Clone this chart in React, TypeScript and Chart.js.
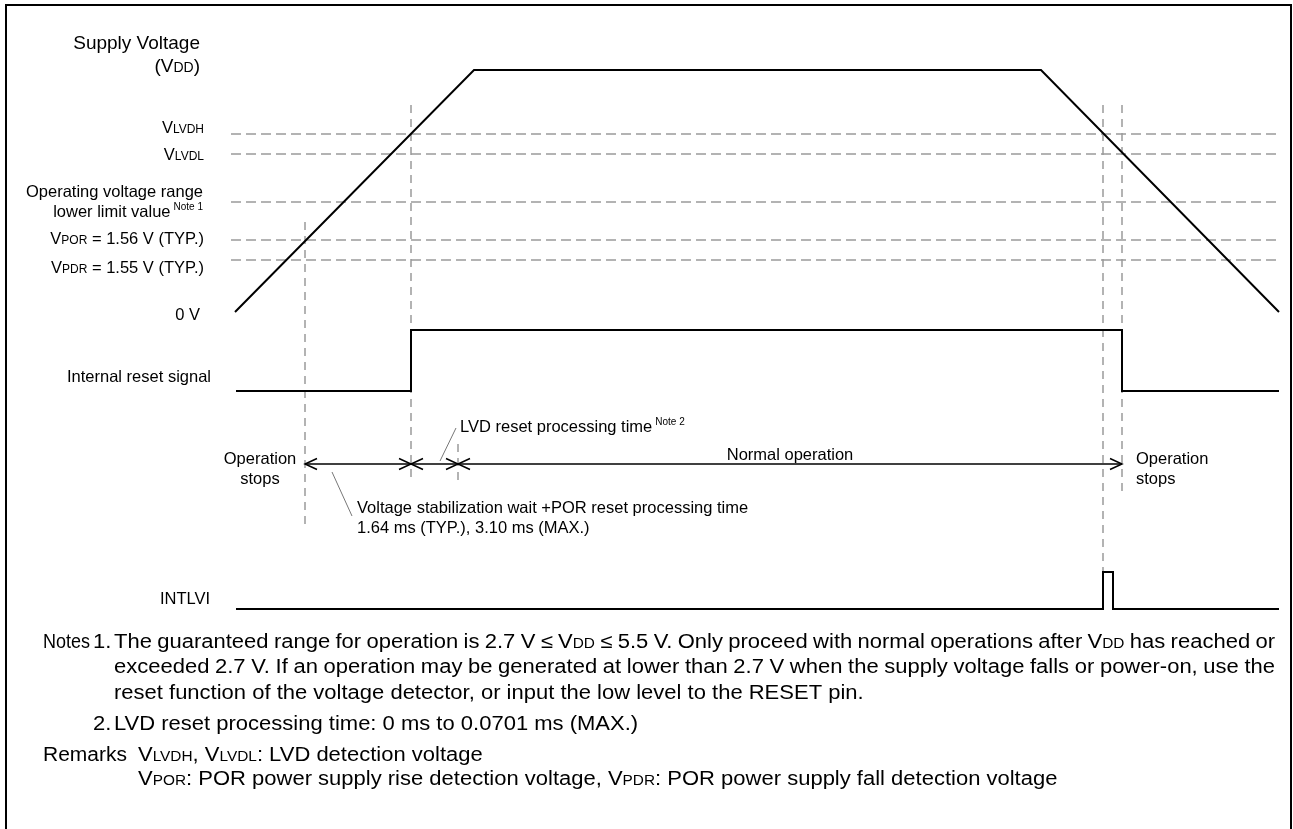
import React, { useEffect, useRef } from "react";
import { Chart, registerables } from "chart.js";

Chart.register(...registerables);

const FONT = '"Liberation Sans", Arial, Helvetica, sans-serif';

// ---- Waveform data: time axis (diagram time units), level axis (0 V = 0) ----
const vddTime = [235, 474, 1041, 1279];
const vddLevel = [0, 242, 242, 0];

const resetTime = [236, 411, 411, 1122, 1122, 1279];
const resetLevel = [-79, -79, -18, -18, -79, -79];

const intlviTime = [236, 1103, 1103, 1113, 1113, 1279];
const intlviLevel = [-297, -297, -260, -260, -297, -297];

// Threshold voltage levels (horizontal dashed guides)
const thresholdNames = ["VLVDH", "VLVDL", "OPMIN", "VPOR", "VPDR"];
const thresholdLevel = [178, 158, 110, 72, 52];
const thresholdSpan = [231, 1279];

// Event instants (vertical dashed guides)
const markerTime = [305, 411, 458, 1103, 1122];
const markerTop = [90, 207, -132, 207, 207];
const markerBottom = [-214, -171, -174, -260, -183];

// Operation timeline (double arrow row)
const spanRowLevel = -152;
const spanTime = [305, 1122];
const arrowTime = [305, 411, 411, 458, 458, 1122];
const arrowDir = [-1, 1, -1, 1, -1, 1];

// Leader lines for annotations
const leaderTime = [[440, 456], [332, 352]];
const leaderLevel = [[-149, -116], [-160, -204]];

// Axis ranges
const timeRange = [0, 1293];
const levelRange = [-517, 312];

const LS = 16.5;
type Label = { text: string; x: number; y: number; size: number; align: "left" | "right" | "center" };
const labels: Label[] = [
  { text: "Supply Voltage", x: 200, y: 263, size: 19, align: "right" },
  { text: "(V{DD})", x: 200, y: 240, size: 19, align: "right" },
  { text: "V{LVDH}", x: 204, y: 179, size: LS, align: "right" },
  { text: "V{LVDL}", x: 204, y: 152, size: LS, align: "right" },
  { text: "Operating voltage range", x: 203, y: 115, size: LS, align: "right" },
  { text: "lower limit value^{Note 1}", x: 203, y: 95, size: LS, align: "right" },
  { text: "V{POR} = 1.56 V (TYP.)", x: 204, y: 68, size: LS, align: "right" },
  { text: "V{PDR} = 1.55 V (TYP.)", x: 204, y: 39, size: LS, align: "right" },
  { text: "0 V", x: 200, y: -8, size: LS, align: "right" },
  { text: "Internal reset signal", x: 211, y: -70, size: LS, align: "right" },
  { text: "INTLVI", x: 210, y: -292, size: LS, align: "right" },
  { text: "Operation", x: 260, y: -152, size: LS, align: "center" },
  { text: "stops", x: 260, y: -172, size: LS, align: "center" },
  { text: "Operation", x: 1136, y: -152, size: LS, align: "left" },
  { text: "stops", x: 1136, y: -172, size: LS, align: "left" },
  { text: "Normal operation", x: 790, y: -148, size: LS, align: "center" },
  { text: "LVD reset processing time^{Note 2}", x: 460, y: -120, size: LS, align: "left" },
  { text: "Voltage stabilization wait +POR reset processing time", x: 357, y: -201, size: LS, align: "left" },
  { text: "1.64 ms (TYP.), 3.10 ms (MAX.)", x: 357, y: -221, size: LS, align: "left" },
];

const noteSize = 20;
const noteStretch = 1.1;
const noteLines = [
  { head: "Notes", num: "1.", text: "The guaranteed range for operation is 2.7 V ≤ V{DD} ≤ 5.5 V. Only proceed with normal operations after V{DD} has reached or", justify: true },
  { head: "", num: "", text: "exceeded 2.7 V. If an operation may be generated at lower than 2.7 V when the supply voltage falls or power-on, use the", justify: true },
  { head: "", num: "", text: "reset function of the voltage detector, or input the low level to the RESET pin.", justify: false },
  { head: "", num: "2.", text: "LVD reset processing time: 0 ms to 0.0701 ms (MAX.)", justify: false },
];
const noteLevels = [-336, -361, -387, -418];
const remarkLines = [
  "V{LVDH}, V{LVDL}: LVD detection voltage",
  "V{POR}: POR power supply rise detection voltage, V{PDR}: POR power supply fall detection voltage",
];
const remarkLevels = [-449, -473];

type Run = { t: string; size: number; dy: number; gap: number; sx: number };

function parseRich(text: string, size: number, sx = 1): Run[] {
  const runs: Run[] = [];
  const re = /(\^\{[^}]*\}|\{[^}]*\})/g;
  let last = 0;
  let m: RegExpExecArray | null;
  while ((m = re.exec(text))) {
    if (m.index > last) runs.push({ t: text.slice(last, m.index), size, dy: 0, gap: 0, sx });
    const tok = m[0];
    if (tok.startsWith("^")) runs.push({ t: tok.slice(2, -1), size: 10, dy: -size * 0.4, gap: 3, sx });
    else runs.push({ t: tok.slice(1, -1), size: Math.round(size * 0.72), dy: 0, gap: 0, sx });
    last = m.index + tok.length;
  }
  if (last < text.length) runs.push({ t: text.slice(last), size, dy: 0, gap: 0, sx });
  return runs;
}

function runsWidth(ctx: CanvasRenderingContext2D, runs: Run[]) {
  let w = 0;
  for (const r of runs) {
    ctx.font = `${r.size}px ${FONT}`;
    w += r.gap + ctx.measureText(r.t).width * r.sx;
  }
  return w;
}

function drawRuns(ctx: CanvasRenderingContext2D, runs: Run[], x: number, y: number) {
  let cx = x;
  for (const r of runs) {
    ctx.font = `${r.size}px ${FONT}`;
    cx += r.gap;
    ctx.save();
    ctx.translate(cx, y + r.dy);
    ctx.scale(r.sx, 1);
    ctx.fillText(r.t, 0, 0);
    ctx.restore();
    cx += ctx.measureText(r.t).width * r.sx;
  }
}

function drawRich(ctx: CanvasRenderingContext2D, text: string, size: number, x: number, y: number, align: string, sx = 1) {
  const runs = parseRich(text, size, sx);
  const w = runsWidth(ctx, runs);
  const sxp = align === "left" ? x : align === "right" ? x - w : x - w / 2;
  drawRuns(ctx, runs, sxp, y);
}

function drawJustified(ctx: CanvasRenderingContext2D, text: string, size: number, x0: number, x1: number, y: number, sx = 1) {
  const words = text.split(" ").map((w) => parseRich(w, size, sx));
  const widths = words.map((w) => runsWidth(ctx, w));
  const total = widths.reduce((a, b) => a + b, 0);
  const gap = (x1 - x0 - total) / (words.length - 1);
  let cx = x0;
  words.forEach((w, i) => {
    drawRuns(ctx, w, cx, y);
    cx += widths[i] + gap;
  });
}

const overlayPlugin = {
  id: "timingOverlay",
  afterDatasetsDraw(chart: any) {
    const ctx: CanvasRenderingContext2D = chart.ctx;
    const X = (v: number) => chart.scales.x.getPixelForValue(v);
    const Y = (v: number) => chart.scales.y.getPixelForValue(v);
    ctx.save();

    // frame
    ctx.strokeStyle = "#000";
    ctx.lineWidth = 2;
    ctx.strokeRect(6, 5, chart.width - 8, chart.height + 10);

    // arrow heads
    ctx.lineWidth = 1.5;
    ctx.strokeStyle = "#000";
    const ay = Y(spanRowLevel);
    arrowTime.forEach((t, i) => {
      const tx = X(t);
      const d = arrowDir[i];
      ctx.beginPath();
      ctx.moveTo(tx - d * 12, ay - 5.5);
      ctx.lineTo(tx, ay);
      ctx.lineTo(tx - d * 12, ay + 5.5);
      ctx.stroke();
    });

    // labels
    ctx.fillStyle = "#000";
    ctx.textBaseline = "alphabetic";
    labels.forEach((l) => drawRich(ctx, l.text, l.size, X(l.x), Y(l.y), l.align));

    // notes
    const headX = 43, numX = 93, textX = 114, rightX = 1275, remarkX = 138;
    noteLines.forEach((n, i) => {
      const y = Y(noteLevels[i]);
      if (n.head) drawRich(ctx, n.head, noteSize, headX, y, "left", 0.9);
      if (n.num) drawRich(ctx, n.num, noteSize, numX, y, "left", noteStretch);
      if (n.justify) drawJustified(ctx, n.text, noteSize, textX, rightX, y, noteStretch);
      else drawRich(ctx, n.text, noteSize, textX, y, "left", noteStretch);
    });
    drawRich(ctx, "Remarks", noteSize, headX, Y(remarkLevels[0]), "left", 1.05);
    remarkLines.forEach((r, i) => drawRich(ctx, r, noteSize, remarkX, Y(remarkLevels[i]), "left", noteStretch));

    ctx.restore();
  },
};

function seg(xs: number[], ys: number[], color: string, width: number, dash: number[] = []) {
  return {
    data: xs.map((x, i) => ({ x, y: ys[i] })),
    showLine: true,
    borderColor: color,
    borderWidth: width,
    borderDash: dash,
    pointRadius: 0,
    fill: false,
    tension: 0,
  };
}

export default function App() {
  const ref = useRef<HTMLCanvasElement | null>(null);
  useEffect(() => {
    if (!ref.current) return;
    const solid = [
      seg(vddTime, vddLevel, "#000", 2),
      seg(resetTime, resetLevel, "#000", 2),
      seg(intlviTime, intlviLevel, "#000", 2),
      seg(spanTime, [spanRowLevel, spanRowLevel], "#000", 1.5),
      ...leaderTime.map((t, i) => seg(t, leaderLevel[i], "#777", 1)),
    ];
    const dashed = [
      ...thresholdNames.map((_, i) =>
        seg(thresholdSpan, [thresholdLevel[i], thresholdLevel[i]], "#9a9a9a", 1.5, [10, 5])
      ),
      ...markerTime.map((t, i) => seg([t, t], [markerTop[i], markerBottom[i]], "#9a9a9a", 1.5, [8, 6])),
    ];
    const chart = new Chart(ref.current, {
      type: "scatter",
      data: { datasets: [...solid, ...dashed] as any },
      options: {
        responsive: false,
        maintainAspectRatio: false,
        devicePixelRatio: 1,
        animation: false,
        events: [],
        layout: { padding: 0 },
        plugins: { legend: { display: false }, tooltip: { enabled: false } },
        scales: {
          x: { type: "linear", min: timeRange[0], max: timeRange[1], display: false },
          y: { type: "linear", min: levelRange[0], max: levelRange[1], display: false },
        },
      },
      plugins: [overlayPlugin],
    });
    return () => chart.destroy();
  }, []);
  return (
    <div style={{ position: "fixed", left: 0, top: 0, width: 1293, height: 829, background: "#fff" }}>
      <canvas ref={ref} width={1293} height={829} style={{ display: "block" }} />
    </div>
  );
}
